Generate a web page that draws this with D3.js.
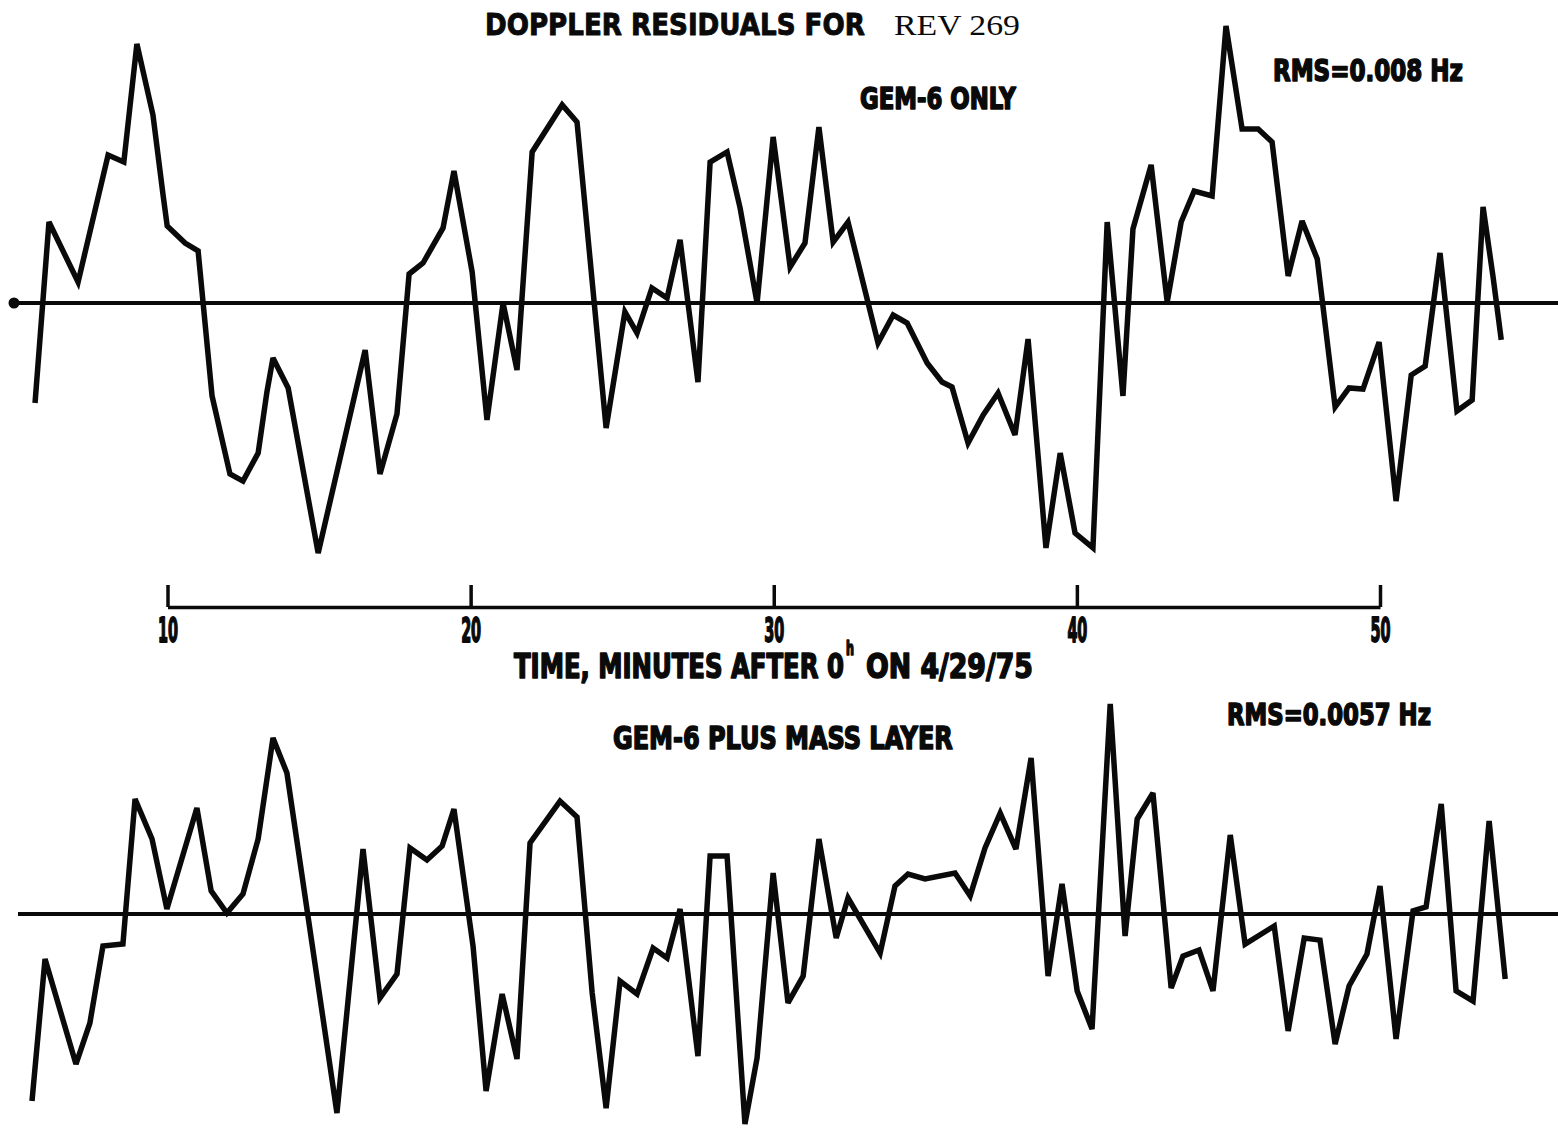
<!DOCTYPE html>
<html>
<head>
<meta charset="utf-8">
<script src="https://cdn.jsdelivr.net/npm/d3@7"></script>
<style>
  html, body { margin: 0; padding: 0; background: #ffffff; }
  svg { display: block; }
</style>
</head>
<body>
<svg id="chart" width="1558" height="1128"></svg>
<script>
// Doppler residuals for Rev 269 — time in minutes after 0h on 4/29/75, residual in mHz.

// Upper trace: GEM-6 gravity model only
const gemOnlyTime = [5.63, 6.09, 7.05, 8.04, 8.56, 8.99, 9.52, 9.85, 9.99, 10.58,
  11.01, 11.47, 12.06, 12.49, 12.99, 13.28, 13.48, 13.98, 14.97, 16.52,
  17.01, 17.57, 17.97, 18.43, 19.09, 19.45, 20.05, 20.54, 21.07, 21.53,
  22.03, 23.02, 23.51, 24.47, 25.09, 25.49, 25.98, 26.48, 26.91, 27.50,
  27.90, 28.46, 28.89, 29.45, 29.98, 30.54, 31.03, 31.49, 31.96, 32.45,
  33.44, 33.94, 34.40, 35.06, 35.55, 35.88, 36.41, 36.91, 37.40, 37.96,
  38.39, 38.98, 39.45, 39.94, 40.53, 41.00, 41.52, 41.85, 42.45, 42.98,
  43.44, 43.87, 44.46, 44.92, 45.45, 45.98, 46.44, 46.97, 47.43, 47.93,
  48.52, 48.98, 49.44, 49.97, 50.53, 51.03, 51.49, 51.98, 52.54, 53.04,
  53.40, 53.73, 54.00];
const gemOnlyResidual = [-6.25, 5.06, 1.31, 9.25, 8.81, 16.19, 11.75, 6.81, 4.81, 3.75,
  3.25, -5.81, -10.69, -11.13, -9.38, -5.56, -3.44, -5.31, -15.63, -2.94,
  -10.69, -6.94, 1.81, 2.50, 4.69, 8.25, 1.94, -7.31, 0.00, -4.19,
  9.44, 12.38, 11.31, -7.81, -0.56, -1.88, 0.94, 0.31, 3.94, -4.94,
  8.81, 9.44, 5.94, 0.00, 10.38, 2.25, 3.75, 11.00, 3.81, 5.06,
  -2.50, -0.75, -1.25, -3.75, -4.94, -5.25, -8.75, -7.00, -5.63, -8.25,
  -2.25, -15.31, -9.38, -14.38, -15.31, 5.06, -5.81, 4.63, 8.63, 0.06,
  5.06, 7.00, 6.69, 17.31, 10.88, 10.88, 10.06, 1.69, 5.13, 2.75,
  -6.50, -5.31, -5.38, -2.44, -12.38, -4.50, -3.94, 3.13, -6.75, -6.06,
  6.00, 1.63, -2.31];

// Lower trace: GEM-6 plus mass layer
const massLayerTime = [5.53, 5.96, 6.98, 7.44, 7.87, 8.53, 8.93, 9.49, 9.98, 10.97,
  11.44, 11.96, 12.49, 12.99, 13.48, 13.94, 15.59, 16.45, 17.01, 17.57,
  18.00, 18.56, 19.06, 19.45, 20.08, 20.51, 21.04, 21.53, 21.96, 22.95,
  23.51, 24.01, 24.47, 24.93, 25.49, 26.02, 26.48, 26.91, 27.50, 27.90,
  28.46, 29.05, 29.45, 29.98, 30.47, 30.97, 31.49, 32.06, 32.45, 33.51,
  34.00, 34.43, 34.99, 35.98, 36.48, 36.97, 37.47, 37.99, 38.49, 39.05,
  39.51, 40.01, 40.50, 41.10, 41.59, 41.99, 42.51, 43.11, 43.50, 44.03,
  44.49, 45.06, 45.55, 46.51, 46.97, 47.50, 48.02, 48.52, 48.98, 49.57,
  50.00, 50.53, 51.09, 51.52, 52.02, 52.51, 53.07, 53.60, 54.13];
const massLayerResidual = [-11.69, -2.81, -9.38, -6.81, -2.00, -1.88, 7.19, 4.69, 0.31, 6.63,
  1.44, 0.06, 1.25, 4.69, 11.00, 8.81, -12.44, 4.06, -5.25, -3.75,
  4.13, 3.38, 4.25, 6.56, -2.00, -11.06, -5.00, -9.06, 4.44, 7.06,
  6.06, -4.94, -12.13, -4.19, -5.00, -2.13, -2.75, 0.31, -8.88, 3.63,
  3.63, -13.13, -9.00, 2.56, -5.56, -3.88, 4.69, -1.50, 1.00, -2.44,
  1.75, 2.50, 2.19, 2.56, 1.13, 4.13, 6.31, 4.06, 9.75, -3.88,
  1.88, -4.81, -7.19, 13.13, -1.38, 5.94, 7.56, -4.63, -2.63, -2.25,
  -4.81, 4.94, -1.88, -0.75, -7.31, -1.50, -1.63, -8.13, -4.50, -2.50,
  1.75, -7.81, 0.19, 0.44, 6.88, -4.81, -5.44, 5.81, -4.06];

// Time axis
const timeTicks = [10, 20, 30, 40, 50];
const timeTickLabels = ["10", "20", "30", "40", "50"];

// Text
const titleMain = "DOPPLER RESIDUALS FOR";
const titleRev = "REV 269";
const upperLabel = "GEM-6 ONLY";
const upperRms = "RMS=0.008 Hz";
const lowerLabel = "GEM-6 PLUS MASS LAYER";
const lowerRms = "RMS=0.0057 Hz";
const axisTitleLead = "TIME, MINUTES AFTER 0";
const axisTitleSup = "h";
const axisTitleTail = "ON 4/29/75";

// ---------------------------------------------------------------------------
const svg = d3.select("#chart");
const ink = "#0a0a0a";
const heavyFont = "'DejaVu Sans Condensed', 'Liberation Sans Narrow', 'DejaVu Sans', sans-serif";

const x = d3.scaleLinear().domain([10, 50]).range([167.5, 1380]);
const yUpper = d3.scaleLinear().domain([-16, 16]).range([559, 47]);
const yLower = d3.scaleLinear().domain([-16, 16]).range([1170, 658]);

function drawPanel(times, values, y, lineStart, withDot) {
  const g = svg.append("g");
  // zero reference line
  g.append("line")
    .attr("x1", lineStart).attr("x2", 1558)
    .attr("y1", y(0)).attr("y2", y(0))
    .attr("stroke", ink).attr("stroke-width", 4);
  if (withDot) {
    g.append("circle").attr("cx", lineStart).attr("cy", y(0)).attr("r", 5.5).attr("fill", ink);
  }
  const pts = times.map((t, i) => [t, values[i]]);
  const line = d3.line().x(d => x(d[0])).y(d => y(d[1]));
  g.append("path")
    .datum(pts)
    .attr("d", line)
    .attr("fill", "none")
    .attr("stroke", ink)
    .attr("stroke-width", 5.5)
    .attr("stroke-linejoin", "miter")
    .attr("stroke-miterlimit", 3)
    .attr("stroke-linecap", "butt");
}

drawPanel(gemOnlyTime, gemOnlyResidual, yUpper, 14, true);
drawPanel(massLayerTime, massLayerResidual, yLower, 18, false);

// Text fitted to a given drawn width by horizontal scaling
function fitText(sel, width, anchor) {
  const node = sel.node();
  const natural = node.getComputedTextLength();
  const k = width / natural;
  const x0 = +sel.attr("x"), y0 = +sel.attr("y");
  const left = anchor === "middle" ? x0 - width / 2 : x0;
  sel.attr("x", 0).attr("y", 0)
    .attr("text-anchor", "start")
    .attr("transform", `translate(${left},${y0}) scale(${k},1)`);
  return sel;
}

function label(parent, txt, x0, baseline, width, size, opts = {}) {
  const t = parent.append("text")
    .attr("x", x0).attr("y", baseline)
    .attr("fill", ink)
    .attr("stroke", opts.stroke === false ? "none" : ink)
    .attr("stroke-width", opts.strokeWidth || 1.6)
    .attr("stroke-linejoin", "round")
    .style("font-family", opts.family || heavyFont)
    .style("font-weight", opts.weight || "bold")
    .style("font-size", size + "px")
    .text(txt);
  return fitText(t, width, opts.anchor);
}

// Time axis between the panels: ticks point up, labels sit below the baseline
const axis = d3.axisBottom(x)
  .tickValues(timeTicks)
  .tickFormat(() => "")
  .tickSizeInner(-22)
  .tickSizeOuter(0);

const axisG = svg.append("g")
  .attr("transform", "translate(0,607)")
  .call(axis);
axisG.select(".domain").attr("stroke", ink).attr("stroke-width", 3.5);
axisG.selectAll(".tick line").attr("stroke", ink).attr("stroke-width", 3.5);
axisG.selectAll(".tick text").remove();
axisG.selectAll(".tick").each(function(d, i) {
  label(d3.select(this), timeTickLabels[i], 0, 35, 20, 33, { anchor: "middle", strokeWidth: 1.8 });
});

// Title
label(svg, titleMain, 485, 35, 380, 31, { family: "'DejaVu Sans', sans-serif", strokeWidth: 1 });
label(svg, titleRev, 894, 35, 126, 29, { family: "'Liberation Serif', 'DejaVu Serif', serif", weight: "normal", stroke: false });

// Panel captions
label(svg, upperLabel, 860, 109, 156, 30);
label(svg, upperRms, 1273, 81, 190, 31);
label(svg, lowerLabel, 613, 749, 340, 32);
label(svg, lowerRms, 1227, 725, 204, 31);

// Axis title with superscript hour mark
label(svg, axisTitleLead, 514, 678, 330, 34);
label(svg, axisTitleSup, 846, 655, 8, 19);
label(svg, axisTitleTail, 866, 678, 167, 34);
</script>
</body>
</html>
